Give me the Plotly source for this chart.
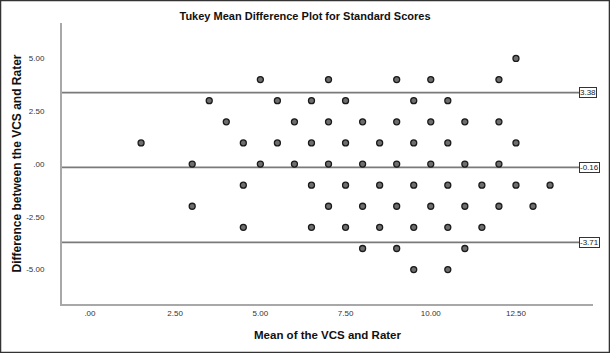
import plotly.graph_objects as go

# Data: rows of difference values and the means at which points occur
diff_levels = [5, 4, 3, 2, 1, 0, -1, -2, -3, -4, -5]
means_by_level = [
    [12.5],
    [5, 7, 9, 10, 12],
    [3.5, 5.5, 6.5, 7.5, 9.5, 10.5],
    [4, 6, 7, 8, 9, 10, 11, 12],
    [1.5, 4.5, 5.5, 6.5, 7.5, 8.5, 9.5, 10.5, 12.5],
    [3, 5, 6, 7, 8, 9, 10, 11, 12],
    [4.5, 6.5, 7.5, 8.5, 9.5, 10.5, 11.5, 12.5, 13.5],
    [3, 7, 8, 9, 10, 11, 12, 13],
    [4.5, 6.5, 7.5, 8.5, 9.5, 10.5, 11.5],
    [8, 9, 11],
    [9.5, 10.5],
]
ref_values = [3.38, -0.16, -3.71]
ref_labels = ["3.38", "-0.16", "-3.71"]
x_tickvals = [0, 2.5, 5, 7.5, 10, 12.5]
x_ticktext = [".00", "2.50", "5.00", "7.50", "10.00", "12.50"]
y_tickvals = [-5, -2.5, 0, 2.5, 5]
y_ticktext = ["-5.00", "-2.50", ".00", "2.50", "5.00"]

xs, ys = [], []
for lvl, ms in zip(diff_levels, means_by_level):
    for m in ms:
        xs.append(m)
        ys.append(lvl)

FONT = "Liberation Sans, Arial, sans-serif"
X0, X1 = -0.82, 14.76
Y0, Y1 = -6.63, 6.68
LINE_END = 14.35

fig = go.Figure()
fig.add_trace(go.Scatter(
    x=xs, y=ys, mode="markers",
    marker=dict(size=6, color="#6e6e6e", line=dict(color="#1a1a1a", width=1.3)),
    showlegend=False, cliponaxis=False,
))

shapes = []
annotations = []
for v, lab in zip(ref_values, ref_labels):
    shapes.append(dict(type="line", xref="x", yref="y", x0=X0, x1=LINE_END, y0=v, y1=v,
                       line=dict(color="#7a7a7a", width=1.6), layer="below"))
    annotations.append(dict(x=LINE_END, y=v, xref="x", yref="y", text=lab, showarrow=False,
                            xanchor="left", yanchor="middle",
                            font=dict(family=FONT, size=8, color="#222"),
                            bgcolor="white", bordercolor="#333", borderwidth=1, borderpad=0))

# outer frame of the image
shapes.append(dict(type="rect", xref="paper", yref="paper",
                   x0=-0.1158, x1=1.031, y0=-0.1726, y1=1.080,
                   line=dict(color="#333", width=1.5), fillcolor="rgba(0,0,0,0)"))

fig.update_layout(
    width=610, height=353,
    margin=dict(l=62, r=17, t=23, b=49),
    paper_bgcolor="white", plot_bgcolor="white",
    title=dict(text="<b>Tukey Mean Difference Plot for Standard Scores</b>",
               x=0.5, xref="container", xanchor="center", y=1 - 16 / 353, yanchor="middle",
               font=dict(family=FONT, size=11, color="#111")),
    xaxis=dict(range=[X0, X1], tickvals=x_tickvals, ticktext=x_ticktext,
               showgrid=False, zeroline=False, showline=True, linecolor="#a8a8a8", linewidth=2,
               ticks="", tickfont=dict(family=FONT, size=8, color="#333"),
               title=dict(text="<b>Mean of the VCS and Rater</b>", standoff=14,
                          font=dict(family=FONT, size=11.5, color="#111"))),
    yaxis=dict(range=[Y0, Y1], tickvals=y_tickvals, ticktext=y_ticktext,
               showgrid=False, zeroline=False, showline=True, linecolor="#a8a8a8", linewidth=2,
               ticks="", ticklabelstandoff=14, tickfont=dict(family=FONT, size=8, color="#333"),
               title=dict(text="<b>Difference between the VCS and Rater</b>", standoff=2,
                          font=dict(family=FONT, size=12, color="#111"))),
    shapes=shapes, annotations=annotations,
)

fig.write_html("out.html")
